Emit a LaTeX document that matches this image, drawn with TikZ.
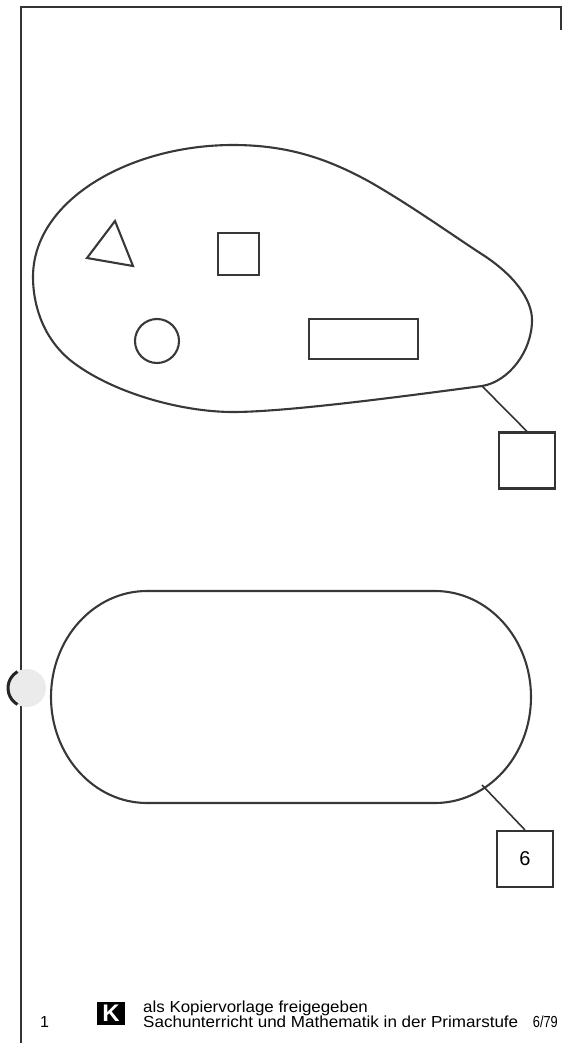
\documentclass[tikz,border=0pt]{standalone}
\usepackage{fontspec}
\setmainfont{Liberation Sans}
\begin{document}
\begin{tikzpicture}[x=1pt,y=-1pt,
  ln/.style={draw=black!80,line width=2pt},
  shp/.style={draw=black!78,line width=2.1pt},
  callout/.style={draw=black!80,line width=2.1pt,minimum width=56pt,minimum height=56pt,inner sep=0pt,font=\fontsize{20}{22}\selectfont},
  foot/.style={font=\fontsize{16}{18}\selectfont,inner sep=0pt,anchor=base west}]
\useasboundingbox (0,0) rectangle (563,1043);
% frame
\draw[ln] (21,1043) -- (21,7) -- (561,7) -- (561,30);
% hole punch
\fill[black!8] (27,688) circle (19);
\draw[black!85,line width=3pt] (17.5,704.5) arc (120:240:19);
% blob
\draw[shp] (233,145) .. controls (290,145) and (330,160) .. (370,182)
  .. controls (410,205) and (445,230) .. (480,253)
  .. controls (515,275) and (532,300) .. (532,320)
  .. controls (532,352) and (508,382) .. (482,386)
  .. controls (420,394) and (290,412) .. (233,412)
  .. controls (180,412) and (110,392) .. (70,360)
  .. controls (40,335) and (33,300) .. (33,277)
  .. controls (33,200) and (130,145) .. cycle;
\coordinate (blobpt) at (482,386);
% shapes in blob
\draw[shp] (115,221) -- (87,258) -- (133,266) -- cycle;
\draw[shp] (218,233) rectangle (259,275);
\draw[shp] (157,341) circle (22);
\draw[shp] (309,319) rectangle (418,359);
% callout 1
\node[callout] (b1) at (527,460.5) {};
\draw[ln,line width=1.6pt] (blobpt) -- (b1.north);
% stadium
\draw[shp] (147,591) -- (435,591) arc (-90:90:96 and 106) -- (147,803) arc (90:270:96 and 106) -- cycle;
\coordinate (stadpt) at (482,785);
\node[callout] (b2) at (525,859) {6};
\draw[ln,line width=1.6pt] (stadpt) -- (b2.north);
% footer
\node[foot] (num) at (40,1027) {1};
\node[fill=black,minimum width=28pt,minimum height=23pt,inner sep=0pt,text=white,font=\bfseries\fontsize{24}{24}\selectfont] (logo) at (111,1013.5) {K};
\node[foot] (l1) at (143,1012) {\scalebox{1.057}[1]{als Kopiervorlage freigegeben}};
\node[foot] (l2) at (143,1027) {\scalebox{1.065}[1]{Sachunterricht und Mathematik in der Primarstufe}};
\node[foot,anchor=base east] (yr) at (558,1027) {\scalebox{0.8}[1]{6/79}};
\end{tikzpicture}
\end{document}
